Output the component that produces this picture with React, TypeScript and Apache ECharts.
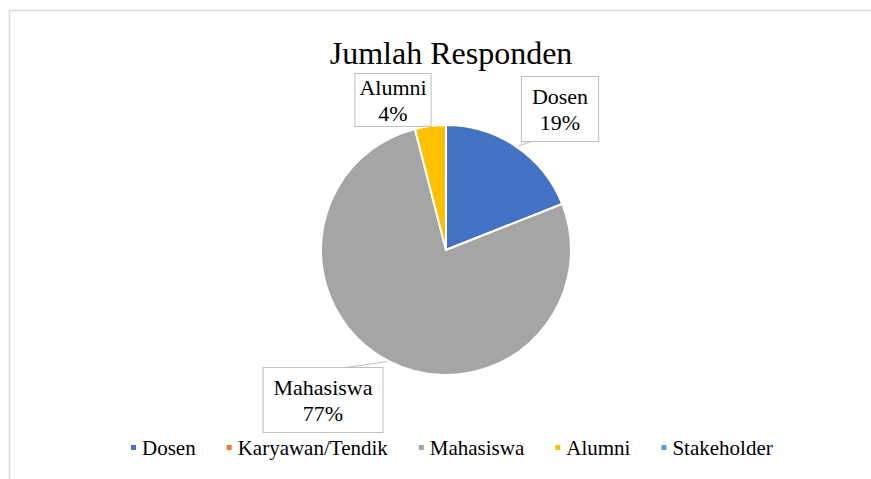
import React, { useEffect, useRef } from "react";
import * as echarts from "echarts";

const TITLE = "Jumlah Responden";
const categories = ["Dosen", "Karyawan/Tendik", "Mahasiswa", "Alumni", "Stakeholder"];
const values = [19, 0, 77, 4, 0];
const colors = ["#4472C4", "#ED7D31", "#A5A5A5", "#FFC000", "#5B9BD5"];

const FONT = "Liberation Serif";

// label box centres and leader-line ends (layout only)
const labelCenters: Record<number, [number, number]> = {
  0: [560, 109],
  2: [323, 400],
  3: [393, 100],
};
const leaderEnds: Record<number, [number, number] | null> = {
  0: [533, 141],
  2: [345, 367.5],
  3: null,
};
const labelPadding: Record<number, number[]> = {
  0: [6, 10],
  2: [6, 10],
  3: [0, 4],
};

export default function App() {
  const ref = useRef<HTMLDivElement>(null);
  useEffect(() => {
    if (!ref.current) return;
    const chart = echarts.init(ref.current, undefined, { renderer: "svg" });
    const data = categories.map((name, i) => ({
      name,
      value: values[i],
      itemStyle: { color: colors[i] },
      label: values[i] === 0 ? { show: false } : { show: true, padding: labelPadding[i] },
      labelLine: values[i] === 0 || !leaderEnds[i] ? { show: false } : { show: true },
    }));
    chart.setOption({
      animation: false,
      backgroundColor: "#ffffff",
      title: {
        text: TITLE,
        left: 446,
        top: 32,
        textAlign: "center",
        textStyle: { fontFamily: FONT, fontSize: 32, fontWeight: "normal", color: "#000" },
      },
      legend: {
        data: categories,
        left: 124,
        top: 432,
        icon: "rect",
        itemWidth: 7,
        itemHeight: 7,
        itemGap: 29,
        textStyle: { fontFamily: FONT, fontSize: 21, color: "#000" },
      },
      graphic: [
        {
          type: "rect",
          shape: { x: 9.5, y: 10.5, width: 1200, height: 1200 },
          style: { fill: "none", stroke: "#d9d9d9", lineWidth: 1.5 },
          silent: true,
        },
      ],
      series: [
        {
          type: "pie",
          center: [446, 250],
          radius: 125,
          startAngle: 90,
          clockwise: true,
          percentPrecision: 0,
          avoidLabelOverlap: false,
          itemStyle: { borderColor: "#ffffff", borderWidth: 2 },
          label: {
            position: "outside",
            formatter: "{b}\n{d}%",
            fontFamily: FONT,
            fontSize: 22,
            lineHeight: 26,
            color: "#000",
            backgroundColor: "#ffffff",
            borderColor: "#bfbfbf",
            borderWidth: 1,
            align: "center",
          },
          labelLine: { lineStyle: { color: "#bfbfbf", width: 1 }, length: 5, length2: 5 },
          labelLayout: (params: any) => {
            const c = labelCenters[params.dataIndex];
            if (!c) return {};
            const out: any = { x: c[0], y: c[1], align: "center", verticalAlign: "middle" };
            const end = leaderEnds[params.dataIndex];
            if (end && params.labelLinePoints && params.labelLinePoints[0]) {
              const p0 = params.labelLinePoints[0];
              out.labelLinePoints = [p0, end, end];
            }
            return out;
          },
          data,
        },
      ],
    });
    return () => chart.dispose();
  }, []);
  return (
    <div
      ref={ref}
      style={{ position: "absolute", left: 0, top: 0, width: 871, height: 479 }}
    />
  );
}
